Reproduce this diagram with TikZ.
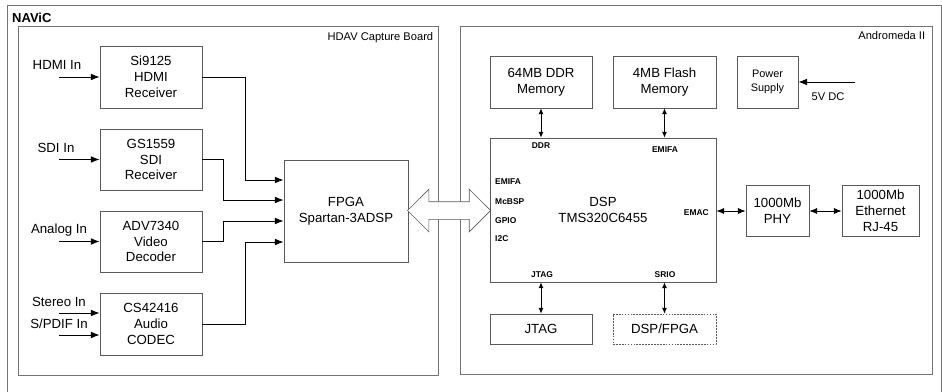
\documentclass[tikz,border=0pt]{standalone}
\usepackage{fontspec}
\setmainfont{Liberation Sans}
\usetikzlibrary{arrows.meta,positioning,shapes.arrows,calc}

\begin{document}
\begin{tikzpicture}[x=0.03cm, y=-0.03cm,
    blk/.style={draw=black!65, line width=0.6pt, align=center, inner sep=0pt, font=\fontsize{11.3}{13.5}\selectfont},
    brd/.style={draw=black!55, line width=0.7pt, inner sep=0pt},
    pin/.style={font=\fontsize{7.2}{8}\selectfont\bfseries, inner sep=0pt},
    inlbl/.style={font=\fontsize{11.3}{13.5}\selectfont, inner sep=0pt},
    arr/.style={line width=0.8pt, -{Latex[length=2.6mm,width=2mm]}},
    bus/.style={line width=0.8pt, {Latex[length=1.7mm,width=1.5mm]}-{Latex[length=1.7mm,width=1.5mm]}},
    ebus/.style={line width=0.8pt, {Latex[length=2.3mm,width=1.8mm]}-{Latex[length=2.3mm,width=1.8mm]}}]
    \useasboundingbox (0,0) rectangle (942,392);
    \draw[black!55, line width=0.7pt] (7,392) -- (7,5) -- (941,5) -- (941,392);
    \node(navic) [anchor=base west, font=\fontsize{11.1}{13}\selectfont\bfseries, inner sep=0pt] at (12,23) {NAViC};

    \node(hdav) [brd, minimum width=12.6cm, minimum height=10.47cm] at (228,200.5) {};
    \node(andro) [brd, minimum width=14.16cm, minimum height=10.455cm] at (696,200.25) {};
    \node(hdavlbl) [anchor=base east, font=\fontsize{9.5}{11}\selectfont, inner sep=0pt] at ([shift={(-0.15cm,-0.45cm)}]hdav.north east) {HDAV Capture Board};
    \node(androlbl) [anchor=base east, font=\fontsize{9.5}{11}\selectfont, inner sep=0pt] at ([shift={(-0.21cm,-0.42cm)}]andro.north east) {Andromeda II};

    \node(si) [blk, minimum width=3.06cm, minimum height=1.86cm] at (151,77) {Si9125\\HDMI\\Receiver};
    \node(gs) [blk, minimum width=3.06cm, minimum height=1.83cm] at (151,159.5) {GS1559\\SDI\\Receiver};
    \node(adv) [blk, minimum width=3.06cm, minimum height=1.83cm] at (151,241.5) {ADV7340\\Video\\Decoder};
    \node(cs) [blk, minimum width=3.06cm, minimum height=1.86cm] at (151,324) {CS42416\\Audio\\CODEC};
    \node(fpga) [blk, minimum width=3.72cm, minimum height=3.06cm] at (346,211) {FPGA\\Spartan-3ADSP};

    \coordinate (hdmiin) at (59,77);
    \coordinate (sdiin) at (59,159.5);
    \coordinate (anain) at (59,241.5);
    \coordinate (stereoin) at (59,313);
    \coordinate (spdifin) at (59,335);
    \node(hdmilbl) [inlbl] at (57,65) {HDMI In};
    \node(sdilbl) [inlbl] at (56,148) {SDI In};
    \node(analbl) [inlbl] at (59,230) {Analog In};
    \node(stereolbl) [inlbl] at (59,302) {Stereo In};
    \node(spdiflbl) [inlbl] at (59,324) {S/PDIF In};
    \draw[arr] (hdmiin) -- (si.west);
    \draw[arr] (sdiin) -- (gs.west);
    \draw[arr] (anain) -- (adv.west);
    \draw[arr] (stereoin) -- (stereoin -| cs.west);
    \draw[arr] (spdifin) -- (spdifin -| cs.west);

    \draw[arr] (si.east) -- ++(43,0) |- ([yshift=0.93cm]fpga.west);
    \draw[arr] (gs.east) -- ++(21,0) |- ([yshift=0.33cm]fpga.west);
    \draw[arr] (adv.east) -- ++(21,0) |- ([yshift=-0.3cm]fpga.west);
    \draw[arr] (cs.east) -- ++(43,0) |- ([yshift=-0.93cm]fpga.west);

    \node(ddr) [blk, minimum width=3.06cm, minimum height=1.56cm] at (541,82) {64MB DDR\\Memory};
    \node(flash) [blk, minimum width=3.09cm, minimum height=1.56cm] at (664.5,82) {4MB Flash\\Memory};
    \node(power) [blk, font=\fontsize{9.3}{12.5}\selectfont, minimum width=1.83cm, minimum height=1.56cm] at (767.5,82) {Power\\Supply};
    \coordinate (dcin) at (855,82);
    \node(dclbl) [font=\fontsize{9.5}{11}\selectfont, inner sep=0pt] at (828,97) {5V DC};
    \draw[arr] (dcin) -- (power.east);

    \node(dsp) [blk, minimum width=6.78cm, minimum height=4.32cm] at (603,210) {DSP\\TMS320C6455};
    \node(phy) [blk, minimum width=1.89cm, minimum height=1.53cm] at (777.5,211) {1000Mb\\PHY};
    \node(eth) [blk, minimum width=2.31cm, minimum height=1.53cm] at (880.5,211) {1000Mb\\Ethernet\\RJ-45};
    \node(jtag) [blk, minimum width=3.06cm, minimum height=0.9cm] at (541,329) {JTAG};
    \node(dspfpga) [blk, dash pattern=on 1.5pt off 1pt, minimum width=3.09cm, minimum height=0.9cm] at (664.5,329) {DSP/FPGA};

    \node(pddr) [pin] at (541,146) {DDR};
    \node(pemifa) [pin] at (665,150) {EMIFA};
    \node(pemifb) [pin, anchor=west] at (495,182) {EMIFA};
    \node(pmcbsp) [pin, anchor=west] at (495,202) {McBSP};
    \node(pgpio) [pin, anchor=west] at (495,221) {GPIO};
    \node(pitc) [pin, anchor=west] at (495,239) {I2C};
    \node(pemac) [pin, anchor=east] at (709,213) {EMAC};
    \node(pjtag) [pin] at (542,275) {JTAG};
    \node(psrio) [pin] at (665,275) {SRIO};

    \draw[bus] (ddr.south) -- (ddr.south |- dsp.north);
    \draw[bus] (flash.south) -- (flash.south |- dsp.north);
    \draw[bus] (jtag.north) -- (jtag.north |- dsp.south);
    \draw[bus] (dspfpga.north) -- (dspfpga.north |- dsp.south);
    \draw[ebus] (dsp.east |- phy.west) -- (phy.west);
    \draw[ebus] (phy.east) -- (eth.west);

    \node(link) [double arrow, draw=black!65, fill=white, line width=0.6pt, minimum height=2.49cm, inner xsep=0pt, inner ysep=0.255cm, double arrow head extend=0.375cm] at ($(fpga.east)!0.5!(dsp.west)$) {};
\end{tikzpicture}
\end{document}
